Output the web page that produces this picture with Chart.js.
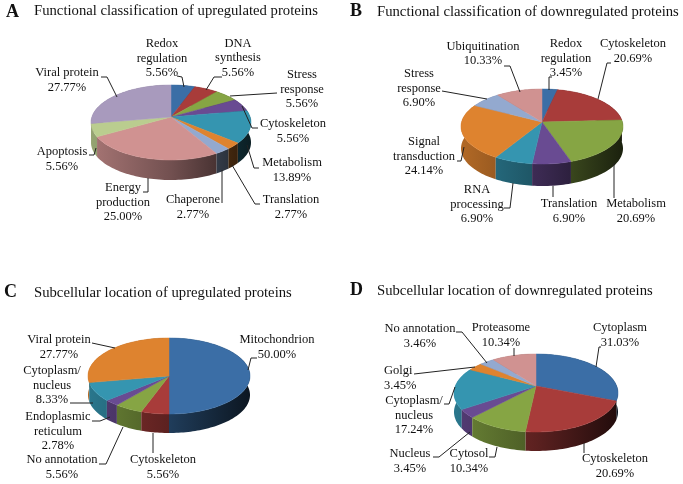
<!DOCTYPE html>
<html>
<head>
<meta charset="utf-8">
<title>Protein pie charts</title>
<script src="https://cdn.jsdelivr.net/npm/chart.js@4"></script>
<style>
  html, body { margin: 0; padding: 0; background: #fff; }
  #page { position: relative; width: 683px; height: 484px; overflow: hidden; }
  canvas { position: absolute; }
</style>
</head>
<body>
<div id="page"></div>
<script>
'use strict';

// DATA
const titleA = 'Functional classification of upregulated proteins';
const categoriesA = ['Redox\nregulation', 'DNA\nsynthesis', 'Stress\nresponse', 'Cytoskeleton', 'Metabolism', 'Translation', 'Chaperone', 'Energy\nproduction', 'Apoptosis', 'Viral protein'];
const valuesA = [5.56, 5.56, 5.56, 5.56, 13.89, 2.77, 2.77, 25.00, 5.56, 27.77];

const titleB = 'Functional classification of downregulated proteins';
const categoriesB = ['Redox\nregulation', 'Cytoskeleton', 'Metabolism', 'Translation', 'RNA\nprocessing', 'Signal\ntransduction', 'Stress\nresponse', 'Ubiquitination'];
const valuesB = [3.45, 20.69, 20.69, 6.90, 6.90, 24.14, 6.90, 10.33];

const titleC = 'Subcellular location of upregulated proteins';
const categoriesC = ['Mitochondrion', 'Cytoskeleton', 'No annotation', 'Endoplasmic\nreticulum', 'Cytoplasm/\nnucleus', 'Viral protein'];
const valuesC = [50.00, 5.56, 5.56, 2.78, 8.33, 27.77];

const titleD = 'Subcellular location of downregulated proteins';
const categoriesD = ['Cytoplasm', 'Cytoskeleton', 'Cytosol', 'Nucleus', 'Cytoplasm/\nnucleus', 'Golgi', 'No annotation', 'Proteasome'];
const valuesD = [31.03, 20.69, 10.34, 3.45, 17.24, 3.45, 3.46, 10.34];

const sliceColors = ['#3b6ea6', '#a83c3a', '#86a544', '#694b92', '#3595b0', '#de832f', '#93a9cf', '#d09291', '#bacd8f', '#a89abd'];

// LAYOUT (page pixels). up/down: how far the rim sits above/below the apex
// spots: label centre [x, y of first line], then leader line points
const panels = [
  {
    letter: 'A', letterAt: [6, 12], title: titleA, titleAt: [34, 11],
    categories: categoriesA, values: valuesA,
    box: [0, 0, 342, 262], cx: 171, cy: 117, r: 80, up: 32, down: 43, depth: 20,
    spots: [
      [162, 44, [[177, 76], [182, 77], [184, 87]]],
      [238, 43.5, [[222, 77], [214, 77], [206, 90]]],
      [302, 75, [[277, 93], [230, 96]]],
      [293, 124, [[258, 128], [252, 128], [242, 106]]],
      [292, 163, [[259, 168], [254, 168], [247, 145]]],
      [291, 200, [[260, 204], [255, 204], [232, 165]]],
      [193, 200, [[222, 203], [222, 170]]],
      [123, 188, [[143, 192], [148, 192], [148, 178]]],
      [62, 152, [[89, 155], [94, 155], [96, 148]]],
      [67, 73, [[101, 77], [107, 77], [117, 97]]]
    ]
  },
  {
    letter: 'B', letterAt: [350, 11], title: titleB, titleAt: [377, 12],
    categories: categoriesB, values: valuesB,
    box: [342, 0, 341, 262], cx: 542, cy: 122, r: 81, up: 33, down: 42, depth: 22,
    spots: [
      [566, 44, [[552, 77], [549, 77], [549, 90]]],
      [633, 44, [[611, 63], [607, 63], [598, 99]]],
      [636, 204, [[614, 198], [614, 163]]],
      [569, 204, [[553, 197], [553, 186]]],
      [477, 190, [[504, 208], [510, 208], [513, 183]]],
      [424, 142, [[457, 161], [461, 161], [464, 147]]],
      [419, 74, [[442, 91], [487, 99]]],
      [483, 46.7, [[504, 66], [510, 66], [520, 92]]]
    ]
  },
  {
    letter: 'C', letterAt: [4, 292], title: titleC, titleAt: [34, 293],
    categories: categoriesC, values: valuesC,
    box: [0, 262, 342, 222], cx: 169, cy: 376, r: 81, up: 38, down: 38, depth: 19,
    spots: [
      [277, 340, [[257, 358], [251, 358], [248, 370]]],
      [163, 460, [[153, 453], [153, 433]]],
      [62, 460, [[99, 464], [106, 464], [123, 427]]],
      [58, 417, [[92, 421], [100, 421], [110, 417]]],
      [52, 371, [[70, 403], [93, 403]]],
      [59, 340, [[92, 343], [115, 348]]]
    ]
  },
  {
    letter: 'D', letterAt: [350, 290], title: titleD, titleAt: [377, 291],
    categories: categoriesD, values: valuesD,
    box: [342, 262, 341, 222], cx: 536, cy: 386, r: 82, up: 32, down: 46, depth: 19,
    spots: [
      [620, 328, [[601, 347], [599, 347], [596, 367]]],
      [615, 459, [[584, 453], [584, 443]]],
      [469, 454, [[489, 457], [495, 457], [497, 447]]],
      [410, 454, [[433, 457], [439, 457], [470, 432]]],
      [414, 401, [[444, 404], [449, 404], [455, 387]]],
      [384, 371, [[414, 374], [475, 367]], 'left'],
      [420, 329, [[456, 332], [462, 332], [487, 363]]],
      [501, 328, [[514, 348], [514, 356]]]
    ]
  }
];

// HELPERS
function shade(hex, f) {
  const n = parseInt(hex.slice(1), 16);
  const r = Math.round(((n >> 16) & 255) * f);
  const g = Math.round(((n >> 8) & 255) * f);
  const b = Math.round((n & 255) * f);
  return `rgb(${r},${g},${b})`;
}

// rim points of one arc element, tilted so the near side looks bigger
function rimPoints(arc, panel) {
  const p = (panel.down - panel.up) / (panel.down + panel.up);
  const k = panel.up * (1 + p);
  const wide = arc.outerRadius * Math.sqrt(1 - p * p);
  const steps = Math.max(2, Math.ceil((arc.endAngle - arc.startAngle) / 0.03));
  const pts = [];
  for (let i = 0; i <= steps; i++) {
    const a = arc.startAngle + (arc.endAngle - arc.startAngle) * i / steps;
    const w = 1 - p * Math.sin(a);
    pts.push([arc.x + wide * Math.cos(a) / w, arc.y + k * Math.sin(a) / w]);
  }
  return pts;
}

function drawSide(ctx, arc, color, panel) {
  const pts = rimPoints(arc, panel);
  const r = arc.outerRadius;
  const grad = ctx.createLinearGradient(arc.x - r, 0, arc.x + r, 0);
  grad.addColorStop(0, shade(color, 0.8));
  grad.addColorStop(0.5, shade(color, 0.55));
  grad.addColorStop(1, shade(color, 0.2));
  ctx.fillStyle = grad;
  ctx.beginPath();
  pts.forEach(function (pt, i) {
    if (i === 0) ctx.moveTo(pt[0], pt[1]);
    else ctx.lineTo(pt[0], pt[1]);
  });
  pts.slice().reverse().forEach(function (pt) {
    ctx.lineTo(pt[0], pt[1] + panel.depth);
  });
  ctx.closePath();
  ctx.fill();
}

function drawTop(ctx, arc, color, panel) {
  ctx.fillStyle = color;
  ctx.strokeStyle = color;
  ctx.lineWidth = 0.5;
  ctx.beginPath();
  ctx.moveTo(arc.x, arc.y);
  rimPoints(arc, panel).forEach(function (pt) {
    ctx.lineTo(pt[0], pt[1]);
  });
  ctx.closePath();
  ctx.fill();
  ctx.stroke();
}

const pie3d = {
  id: 'pie3d',
  // the library works out every arc, this draws them tilted instead of flat
  beforeDatasetsDraw(chart, args, opts) {
    const panel = opts.panel;
    const ctx = chart.ctx;
    const arcs = chart.getDatasetMeta(0).data;
    // back slices first so the front rim stays on top
    const order = arcs.map(function (arc, i) { return i; }).sort(function (a, b) {
      return Math.sin((arcs[a].startAngle + arcs[a].endAngle) / 2) - Math.sin((arcs[b].startAngle + arcs[b].endAngle) / 2);
    });
    order.forEach(function (i) {
      drawSide(ctx, arcs[i], sliceColors[i], panel);
    });
    arcs.forEach(function (arc, i) {
      drawTop(ctx, arc, sliceColors[i], panel);
    });
    return false;
  },
  afterDraw(chart, args, opts) {
    const panel = opts.panel;
    const ctx = chart.ctx;

    ctx.save();
    ctx.translate(-panel.box[0], -panel.box[1]);
    ctx.textBaseline = 'middle';

    ctx.fillStyle = '#111';
    ctx.font = 'bold 18px "Liberation Serif"';
    ctx.textAlign = 'left';
    ctx.fillText(panel.letter, panel.letterAt[0], panel.letterAt[1]);
    ctx.font = '14.7px "Liberation Serif"';
    ctx.fillText(panel.title, panel.titleAt[0], panel.titleAt[1]);

    ctx.font = '12.5px "Liberation Serif"';
    ctx.strokeStyle = '#222';
    ctx.lineWidth = 1;
    panel.spots.forEach(function (spot, i) {
      const lines = panel.categories[i].split('\n');
      lines.push(panel.values[i].toFixed(2) + '%');
      ctx.textAlign = spot[3] || 'center';
      lines.forEach(function (line, j) {
        ctx.fillText(line, spot[0], spot[1] + j * 14.5);
      });
      ctx.beginPath();
      spot[2].forEach(function (p, j) {
        if (j === 0) ctx.moveTo(p[0], p[1]);
        else ctx.lineTo(p[0], p[1]);
      });
      ctx.stroke();
    });
    ctx.restore();
  }
};

// CHARTS
const page = document.getElementById('page');
panels.forEach(function (panel) {
  const box = panel.box;
  const canvas = document.createElement('canvas');
  canvas.width = box[2];
  canvas.height = box[3];
  canvas.style.left = box[0] + 'px';
  canvas.style.top = box[1] + 'px';
  page.appendChild(canvas);

  new Chart(canvas.getContext('2d'), {
    type: 'pie',
    data: {
      labels: panel.categories,
      datasets: [{
        data: panel.values,
        backgroundColor: sliceColors.slice(0, panel.values.length),
        borderWidth: 0
      }]
    },
    plugins: [pie3d],
    options: {
      responsive: false,
      animation: false,
      layout: {
        padding: {
          left: panel.cx - panel.r - box[0],
          right: box[0] + box[2] - panel.cx - panel.r,
          top: panel.cy - panel.r - box[1],
          bottom: box[1] + box[3] - panel.cy - panel.r
        }
      },
      plugins: {
        legend: { display: false },
        tooltip: { enabled: false },
        pie3d: { panel: panel }
      }
    }
  });
});
</script>
</body>
</html>
